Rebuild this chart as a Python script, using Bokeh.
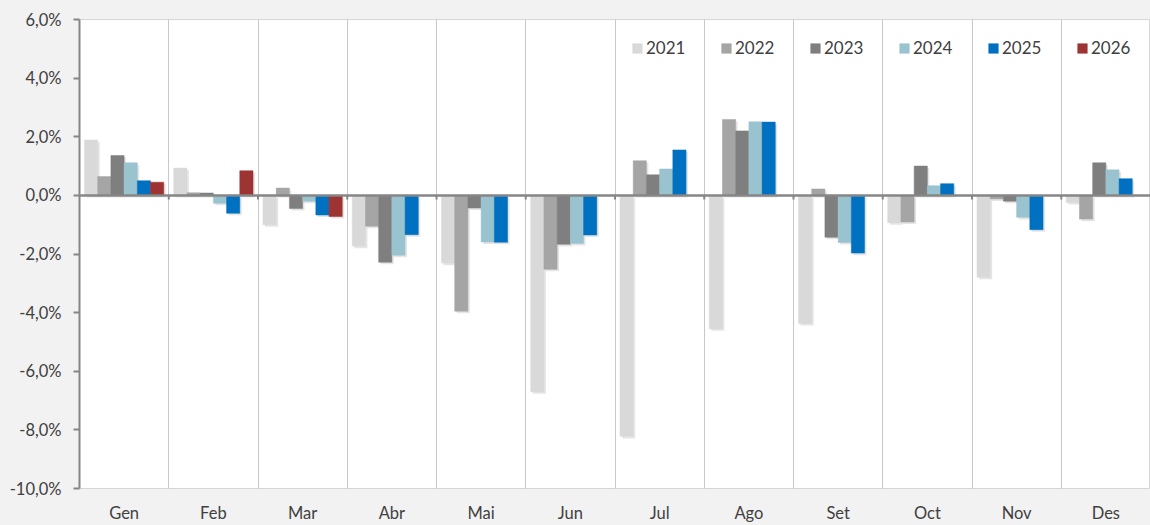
import numpy as np
from bokeh.plotting import figure
from bokeh.models import (Range1d, FixedTicker, Legend, LegendItem, Span,
                          ColumnDataSource, GlobalInlineStyleSheet)
from bokeh.embed import file_html
from bokeh.resources import INLINE

months = ["Gen", "Feb", "Mar", "Abr", "Mai", "Jun", "Jul", "Ago", "Set", "Oct", "Nov", "Des"]
years = ["2021", "2022", "2023", "2024", "2025", "2026"]

v2021 = [1.89, 0.93, -1.00, -1.73, -2.31, -6.70, -8.22, -4.55, -4.37, -0.93, -2.79, -0.24]
v2022 = [0.64, 0.09, 0.25, -1.05, -3.95, -2.52, 1.18, 2.59, 0.22, -0.91, -0.12, -0.81]
v2023 = [1.36, 0.08, -0.45, -2.28, -0.43, -1.67, 0.70, 2.20, -1.43, 1.00, -0.20, 1.11]
v2024 = [1.11, -0.27, -0.20, -2.04, -1.59, -1.64, 0.90, 2.51, -1.61, 0.33, -0.75, 0.87]
v2025 = [0.50, -0.61, -0.67, -1.34, -1.60, -1.35, 1.55, 2.50, -1.97, 0.40, -1.17, 0.57]
v2026 = [0.45, 0.84, -0.72]

series = [v2021, v2022, v2023, v2024, v2025, v2026]
colors = ["#d9d9d9", "#a5a5a5", "#7f7f7f", "#9ac3d0", "#0070c0", "#9e3333"]

y_ticks = [-10, -8, -6, -4, -2, 0, 2, 4, 6]

FONT = "Lato"
TXT = "#404040"
AX = "#868686"

p = figure(width=1150, height=525,
           x_range=Range1d(0, 12), y_range=Range1d(-10, 6),
           output_backend="svg", toolbar_location=None,
           min_border_left=79, min_border_right=0,
           min_border_top=19, min_border_bottom=35,
           border_fill_color="#f2f2f2", background_fill_color="#ffffff",
           outline_line_color="#d6d6d6", outline_line_width=1)
p.stylesheets = [GlobalInlineStyleSheet(css="html, body { background: #f2f2f2; }")]

bar_w = 0.148
renderers = []
for k, (yr, vals, col) in enumerate(zip(years, series, colors)):
    idx = np.arange(len(vals))
    xs = idx + 0.5 + (k - 2.5) * bar_w
    v = np.array(vals, dtype=float)
    shadow = ColumnDataSource(dict(x=xs + 0.022, top=v - 0.07, bottom=np.full(len(v), -0.07)))
    p.vbar(x="x", top="top", bottom="bottom", width=bar_w, source=shadow,
           fill_color="#000000", fill_alpha=0.10, line_color=None)
for k, (yr, vals, col) in enumerate(zip(years, series, colors)):
    idx = np.arange(len(vals))
    xs = idx + 0.5 + (k - 2.5) * bar_w
    src = ColumnDataSource(dict(x=xs, top=vals))
    r = p.vbar(x="x", top="top", bottom=0, width=bar_w, source=src,
               fill_color=col, line_color=col, line_width=0.5)
    renderers.append(r)

# zero line with small category ticks
p.add_layout(Span(location=0, dimension="width", line_color=AX, line_width=2.5))
bounds = list(range(1, 12))
p.segment(x0=bounds, y0=[0] * len(bounds), x1=bounds, y1=[-0.14] * len(bounds),
          line_color=AX, line_width=2)

# grids
p.ygrid.grid_line_color = None
p.xgrid.ticker = FixedTicker(ticks=bounds)
p.xgrid.grid_line_color = "#c8c8c8"
p.xgrid.grid_line_width = 1

# y axis
p.yaxis.ticker = FixedTicker(ticks=y_ticks)
p.yaxis.major_label_overrides = {t: f"{t},0%" for t in y_ticks}
p.yaxis.axis_line_color = AX
p.yaxis.axis_line_width = 2
p.yaxis.major_tick_line_color = AX
p.yaxis.major_tick_line_width = 2
p.yaxis.major_tick_out = 6
p.yaxis.major_tick_in = 0
p.yaxis.minor_tick_line_color = None
p.yaxis.major_label_standoff = 12
p.yaxis.major_label_text_font = FONT
p.yaxis.major_label_text_font_size = "16.5px"
p.yaxis.major_label_text_color = TXT

# x axis
p.xaxis.ticker = FixedTicker(ticks=[i + 0.5 for i in range(12)])
p.xaxis.major_label_overrides = {i + 0.5: m for i, m in enumerate(months)}
p.xaxis.axis_line_color = None
p.xaxis.major_tick_line_color = None
p.xaxis.minor_tick_line_color = None
p.xaxis.major_label_standoff = 8
p.xaxis.major_label_text_font = FONT
p.xaxis.major_label_text_font_size = "16.5px"
p.xaxis.major_label_text_color = TXT

legend = Legend(items=[LegendItem(label=y, renderers=[r]) for y, r in zip(years, renderers)],
                orientation="horizontal", location=(552, 430),
                glyph_width=12, glyph_height=12, label_standoff=3,
                label_width=54, label_height=20, spacing=20,
                padding=0, margin=0, border_line_color=None,
                background_fill_alpha=0,
                label_text_font=FONT, label_text_font_size="17px",
                label_text_color=TXT)
p.add_layout(legend)

open("out.html", "w").write(file_html(p, INLINE))
